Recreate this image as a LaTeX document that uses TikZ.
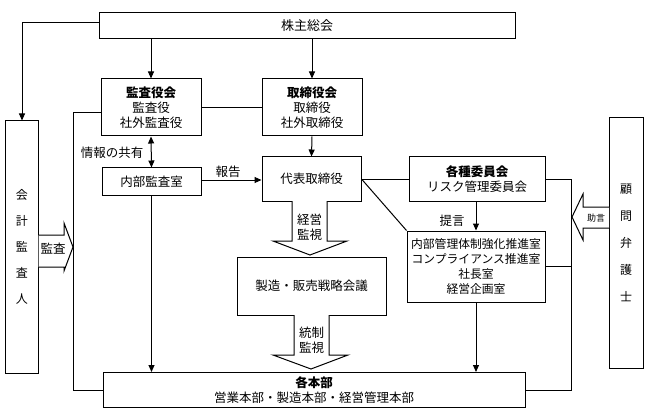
\documentclass[tikz,border=0pt]{standalone}
\usepackage{fontspec}
\setmainfont{Noto Sans CJK JP}
\usetikzlibrary{arrows.meta}
\begin{document}
\begin{tikzpicture}[x=1pt,y=-1pt,
  box/.style={draw, line width=1pt, inner sep=0pt, align=center, font=\fontsize{12.5}{15}\selectfont},
  conn/.style={line width=1pt},
  arr/.style={conn, -{Triangle[length=7pt,width=6pt]}},
  dblarr/.style={conn, {Triangle[length=7pt,width=6pt]}-{Triangle[length=7pt,width=6pt]}},
  lbl/.style={inner sep=0pt, font=\fontsize{12.5}{15}\selectfont, align=center},
  blk/.style={draw, line width=1pt, fill=white, line join=miter}]
\useasboundingbox (0,0) rectangle (648,409);
% boxes
\node[box, minimum width=416pt, minimum height=26pt] (kabu) at (307,26) {\fontsize{13}{15}\selectfont 株主総会};
\node[box, minimum width=33pt, minimum height=252pt, font=\fontsize{12}{26}\selectfont] (kaikei) at (22,247) {会\\計\\監\\査\\人};
\node[box, minimum width=100pt, minimum height=57pt] (kansa) at (151,107.5) {{\bfseries 監査役会}\\監査役\\社外監査役};
\node[box, minimum width=100pt, minimum height=57pt] (tori) at (312,107.5) {{\bfseries 取締役会}\\取締役\\社外取締役};
\node[box, minimum width=99pt, minimum height=27pt] (naibu) at (151.5,181.5) {内部監査室};
\node[box, minimum width=99pt, minimum height=44pt] (daihyo) at (311.5,179) {代表取締役};
\node[box, minimum width=149pt, minimum height=58pt] (seizo) at (311.5,286) {製造・販売戦略会議};
\node[box, minimum width=136pt, minimum height=44pt] (kakushu) at (477,179) {{\bfseries 各種委員会}\\リスク管理委員会};
\node[box, minimum width=138pt, minimum height=71pt, font=\fontsize{11.8}{15.3}\selectfont] (kanri) at (476,266.5) {内部管理体制強化推進室\\コンプライアンス推進室\\社長室\\経営企画室};
\node[box, minimum width=422pt, minimum height=35pt] (honbu) at (314,390) {{\bfseries 各本部}\\営業本部・製造本部・経営管理本部};
\node[box, minimum width=34pt, minimum height=250pt, font=\fontsize{12}{27}\selectfont] (komon) at (626,243) {顧\\問\\弁\\護\\士};
% connectors
\draw[arr] ([yshift=3pt]kabu.west) -| (kaikei.north);
\draw[arr] (kansa.north |- kabu.south) -- (kansa.north);
\draw[arr] (tori.north |- kabu.south) -- (tori.north);
\draw[conn] (kansa.east) -- (tori.west);
\draw[conn] ([yshift=-5.5pt]kansa.west) -- ++(-27,0) |- (honbu.west);
\draw[dblarr] (kansa.south) -- (naibu.north);
\node[lbl] (joho) at (112,153) {情報の共有};
\draw[arr] ([yshift=1.5pt]naibu.east) -- ([yshift=1.5pt]naibu.east -| daihyo.west);
\node[lbl] (hokoku) at (228,172) {報告};
\draw[arr] (naibu.south) -- (naibu.south |- honbu.north);
\draw[arr] (tori.south) -- (daihyo.north);
\draw[conn] (daihyo.east) -- (daihyo.east -| kakushu.west);
\draw[conn] (daihyo.east) -- (kanri.north west);
\draw[arr] (kakushu.south -| kanri.north) -- (kanri.north);
\node[lbl] (teigen) at (452,221) {提言};
\draw[arr] (kanri.south) -- (kanri.south |- honbu.north);
\draw[conn] (kakushu.east) -- ++(26,0) coordinate (rc) |- (honbu.east);
\draw[conn] (kanri.east) -- (kanri.east -| rc);
% block arrows
\draw[blk] (292,201) -- (292,241) -- (273,241) -- (310,255) -- (347,241) -- (327,241) -- (327,201);
\node[lbl] (keiei) at (309.5,227.5) {経営\\監視};
\draw[blk] (294,315) -- (294,355) -- (273,355) -- (311,369) -- (348,355) -- (329,355) -- (329,315);
\node[lbl] (tosei) at (311.5,340.5) {統制\\監視};
\draw[blk] (38.5,235) -- (64,235) -- (64,223) -- (73,247) -- (64,271) -- (64,267) -- (38.5,267);
\node[lbl] (kansaLbl) at (53,249) {監査};
\draw[blk] (609,207) -- (583,207) -- (583,194) -- (572,217) -- (583,240) -- (583,228) -- (609,228);
\node[lbl, font=\fontsize{9}{10}\selectfont] (jogen) at (596,218) {助言};
\end{tikzpicture}
\end{document}
